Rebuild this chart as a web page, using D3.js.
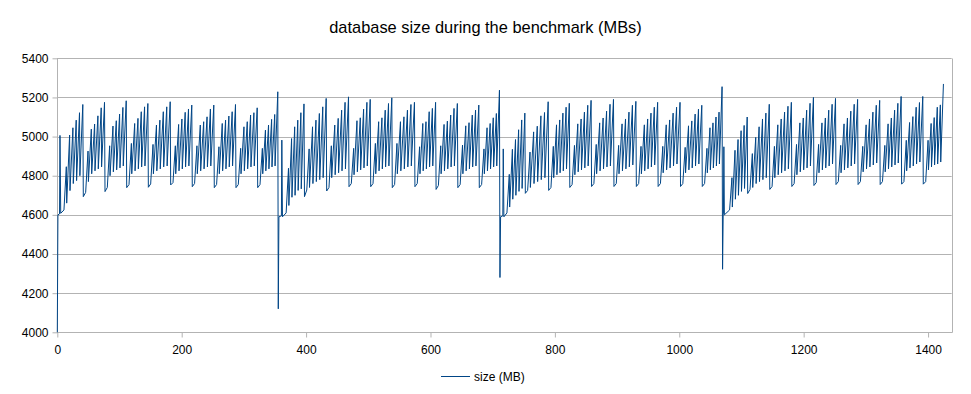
<!DOCTYPE html>
<html>
<head>
<meta charset="utf-8">
<script src="https://cdn.jsdelivr.net/npm/d3@7"></script>
<style>
  html, body { margin: 0; padding: 0; background: #fff; }
  svg { display: block; }
  text { font-family: "Liberation Sans", Arial, sans-serif; fill: #000; }
</style>
</head>
<body>
<svg id="chart" width="971" height="394"></svg>
<script>
// ---------- data ----------
const titleText = "database size during the benchmark (MBs)";
const seriesName = "size (MB)";
const xTicks = [0, 200, 400, 600, 800, 1000, 1200, 1400];
const yTicks = [4000, 4200, 4400, 4600, 4800, 5000, 5200, 5400];

// big resets (deep single-sample dips)
const spikeX      = [0, 355.3, 711.7, 1069.6];
const spikeLow    = [4000, 4120, 4280, 4322];
const spikeBack   = [4600, 4590, 4590, 4600];
const reboundX    = [4.3, 361, 717, 1071.7];
const reboundY    = [5006, 4982, 4937, 4948];
const lastX       = 1424.7;

// sub-cycles: x where the value falls to the cycle low
const dropX = [5.5, 41.8, 76.7, 111.6, 146.4, 182.3, 217, 252.4, 287.3, 322.2,
               362, 397.4, 433.1, 469, 503.9, 538.6, 575, 609, 644, 678.5,
               718, 752.5, 790, 824, 859, 895, 931, 966, 1002, 1037,
               1072.5, 1110, 1145.5, 1181, 1216.5, 1252, 1287.5, 1323, 1357.5, 1392.3];
const firstPeakX = [14.5, 49.4, 84.2, 119.1, 153.9, 189.8, 224.5, 259.9, 294.8, 329.7,
                    371.7, 404.9, 440.6, 476.5, 511.4, 546.1, 582.5, 616.5, 651.5, 686,
                    726.7, 760, 797.5, 831.5, 866.5, 902.5, 938.5, 973.5, 1009.5, 1044.5,
                    1084.7, 1117.5, 1153, 1188.5, 1224, 1259.5, 1295, 1330.5, 1365, 1400];
const lowY = [4608, 4693, 4719, 4739, 4741, 4753, 4744, 4739, 4739, 4739,
              4590, 4693, 4722, 4744, 4744, 4739, 4744, 4730, 4739, 4739,
              4590, 4710, 4725, 4740, 4745, 4745, 4745, 4745, 4745, 4745,
              4600, 4709, 4730, 4745, 4750, 4755, 4755, 4755, 4757, 4757];
const plateauY = [4625, 4715, 4740, 4755, 4758, 4765, 4760, 4755, 4755, 4755,
                  4610, 4727, 4740, 4760, 4760, 4755, 4760, 4750, 4755, 4755,
                  4610, 4725, 4740, 4755, 4760, 4760, 4760, 4760, 4760, 4760,
                  4625, 4730, 4745, 4760, 4765, 4770, 4770, 4770, 4770, 4770];
const peaks = [
  [4846, 5008, 5045, 5084, 5122, 5164],
  [4926, 5038, 5064, 5106, 5147, 5175],
  [4953, 5054, 5081, 5115, 5149, 5183],
  [4965, 5067, 5093, 5127, 5152, 5169],
  [4960, 5059, 5084, 5127, 5152, 5178],
  [4953, 5062, 5090, 5124, 5141, 5161],
  [4953, 5059, 5076, 5101, 5141, 5161],
  [4948, 5067, 5084, 5105, 5127, 5164],
  [4940, 5050, 5076, 5110, 5122, 5147],
  [4940, 5033, 5059, 5088, 5113, 5229],
  [4838, 4990, 5050, 5084, 5122, 5167],
  [4937, 5050, 5084, 5118, 5152, 5195],
  [4953, 5059, 5093, 5135, 5175, 5203],
  [4940, 5081, 5096, 5140, 5175, 5190],
  [4965, 5076, 5096, 5135, 5169, 5198],
  [4965, 5076, 5101, 5135, 5164, 5175],
  [4948, 5067, 5076, 5127, 5144, 5175],
  [4953, 5062, 5079, 5110, 5144, 5169],
  [4957, 5055, 5071, 5110, 5135, 5161],
  [4937, 5045, 5067, 5096, 5118, 5237],
  [4807, 4935, 4985, 5035, 5085, 5120],
  [4921, 5024, 5053, 5106, 5123, 5178],
  [4950, 5060, 5085, 5120, 5150, 5170],
  [4955, 5065, 5090, 5125, 5160, 5185],
  [4960, 5070, 5095, 5130, 5165, 5190],
  [4955, 5065, 5090, 5125, 5160, 5180],
  [4950, 5060, 5090, 5120, 5150, 5175],
  [4950, 5060, 5085, 5120, 5150, 5175],
  [4945, 5055, 5080, 5115, 5140, 5160],
  [4940, 5045, 5070, 5100, 5125, 5255],
  [4790, 4930, 4985, 5030, 5057, 5100],
  [4913, 4996, 5050, 5090, 5120, 5165],
  [4950, 5060, 5090, 5125, 5155, 5175],
  [4960, 5070, 5095, 5135, 5170, 5200],
  [4960, 5070, 5095, 5135, 5165, 5195],
  [4955, 5065, 5095, 5130, 5165, 5190],
  [4950, 5060, 5090, 5125, 5160, 5185],
  [4955, 5065, 5095, 5135, 5170, 5205],
  [4981, 5072, 5102, 5150, 5174, 5205],
  [4981, 5067, 5097, 5150, 5162, 5269]
];
const troughs = [
  [4660, 4724, 4760, 4775, 4800],
  [4770, 4810, 4825, 4835, 4845],
  [4800, 4820, 4830, 4840, 4850],
  [4810, 4825, 4835, 4845, 4850],
  [4810, 4825, 4835, 4845, 4850],
  [4810, 4825, 4835, 4845, 4850],
  [4810, 4825, 4835, 4845, 4850],
  [4810, 4825, 4835, 4845, 4850],
  [4810, 4825, 4835, 4845, 4850],
  [4810, 4825, 4835, 4845, 4850],
  [4648, 4690, 4700, 4725, 4733],
  [4740, 4760, 4770, 4780, 4790],
  [4790, 4805, 4815, 4825, 4835],
  [4805, 4820, 4830, 4840, 4850],
  [4810, 4825, 4835, 4845, 4850],
  [4810, 4825, 4835, 4845, 4850],
  [4810, 4825, 4835, 4845, 4850],
  [4810, 4825, 4835, 4845, 4850],
  [4810, 4825, 4835, 4845, 4850],
  [4810, 4825, 4835, 4845, 4850],
  [4640, 4680, 4700, 4720, 4735],
  [4740, 4760, 4770, 4780, 4790],
  [4790, 4805, 4815, 4825, 4835],
  [4805, 4820, 4830, 4840, 4850],
  [4810, 4825, 4835, 4845, 4850],
  [4810, 4825, 4835, 4845, 4855],
  [4810, 4825, 4835, 4845, 4855],
  [4815, 4830, 4840, 4850, 4860],
  [4815, 4830, 4840, 4850, 4860],
  [4815, 4830, 4840, 4850, 4860],
  [4640, 4680, 4700, 4720, 4735],
  [4740, 4760, 4770, 4780, 4790],
  [4790, 4805, 4815, 4825, 4835],
  [4805, 4820, 4830, 4840, 4850],
  [4815, 4830, 4840, 4850, 4860],
  [4815, 4830, 4840, 4850, 4860],
  [4820, 4835, 4845, 4855, 4865],
  [4820, 4835, 4845, 4855, 4865],
  [4825, 4840, 4850, 4860, 4870],
  [4830, 4845, 4855, 4860, 4870]
];

// ---------- build the polyline vertices ----------
function buildSeries() {
  const pts = [];
  let b = 0;
  for (let k = 0; k < dropX.length; k++) {
    while (b < spikeX.length && spikeX[b] < dropX[k]) {
      pts.push([spikeX[b], spikeLow[b]]);
      pts.push([spikeX[b] + 1, spikeBack[b]]);
      pts.push([reboundX[b] - 0.7, spikeBack[b] + 5]);
      pts.push([reboundX[b], reboundY[b]]);
      b++;
    }
    pts.push([dropX[k], lowY[k]]);
    pts.push([firstPeakX[k] - 3.8, plateauY[k]]);
    let edge = k + 1 < dropX.length ? dropX[k + 1] : lastX + 0.8;
    if (b < spikeX.length && spikeX[b] < edge) edge = spikeX[b];
    const lastPeak = edge - 0.8;
    const p = peaks[k], t = troughs[k];
    const step = (lastPeak - firstPeakX[k]) / (p.length - 1);
    for (let i = 0; i < p.length; i++) {
      const px = firstPeakX[k] + i * step;
      pts.push([px, p[i]]);
      if (i < t.length) pts.push([px + 0.6, t[i]]);
    }
  }
  return pts;
}
const series = buildSeries();

// ---------- drawing ----------
const svg = d3.select("#chart");
const W = 971, H = 394;
const plot = { left: 57.3, right: 951.7, top: 58.3, bottom: 332.3 };

svg.append("rect").attr("width", W).attr("height", H).attr("fill", "#fff");

const x = d3.scaleLinear().domain([0, 1438]).range([plot.left, plot.right]);
const y = d3.scaleLinear().domain([4000, 5400]).range([plot.bottom, plot.top]);

const gridColor = "#b3b3b3";

svg.append("g").selectAll("line").data(yTicks).join("line")
  .attr("x1", plot.left).attr("x2", plot.right)
  .attr("y1", d => Math.round(y(d)) + 0.5).attr("y2", d => Math.round(y(d)) + 0.5)
  .attr("stroke", gridColor).attr("stroke-width", 1);

svg.append("line")
  .attr("x1", Math.round(plot.right) + 0.5).attr("x2", Math.round(plot.right) + 0.5)
  .attr("y1", Math.round(plot.top) + 0.5).attr("y2", Math.round(plot.bottom) + 0.5)
  .attr("stroke", gridColor);

const yAxis = d3.axisLeft(y).tickValues(yTicks).tickSize(5).tickPadding(4).tickFormat(d3.format("d"));
const xAxis = d3.axisBottom(x).tickValues(xTicks).tickSize(5).tickPadding(8).tickFormat(d3.format("d"));

const gy = svg.append("g").attr("transform", `translate(${Math.round(plot.left) + 0.5},0)`).call(yAxis);
const gx = svg.append("g").attr("transform", `translate(0,${Math.round(plot.bottom) + 0.5})`).call(xAxis);
[gx, gy].forEach(g => {
  g.select(".domain").attr("stroke", gridColor);
  g.selectAll(".tick line").attr("stroke", gridColor);
  g.selectAll(".tick text").attr("font-size", 12).attr("fill", "#000")
    .style("font-family", '"Liberation Sans", Arial, sans-serif');
});
gy.select(".domain").attr("d", `M0,${Math.round(plot.top)}V${Math.round(plot.bottom)}`);
gx.select(".domain").attr("d", `M${plot.left},0H${Math.round(plot.right) + 0.5}`);

const line = d3.line().x(d => x(d[0])).y(d => y(d[1]));
svg.append("path").datum(series)
  .attr("d", line)
  .attr("fill", "none")
  .attr("stroke", "#004586")
  .attr("stroke-width", 1)
  .attr("stroke-linejoin", "miter");

svg.append("text").attr("x", 485.5).attr("y", 33)
  .attr("text-anchor", "middle").attr("font-size", 16.4).attr("fill", "#000")
  .text(titleText);

svg.append("line").attr("x1", 441).attr("x2", 470).attr("y1", 376.5).attr("y2", 376.5)
  .attr("stroke", "#004586").attr("stroke-width", 1);
svg.append("text").attr("x", 474).attr("y", 380.5).attr("font-size", 12).attr("fill", "#000")
  .text(seriesName);
</script>
</body>
</html>
